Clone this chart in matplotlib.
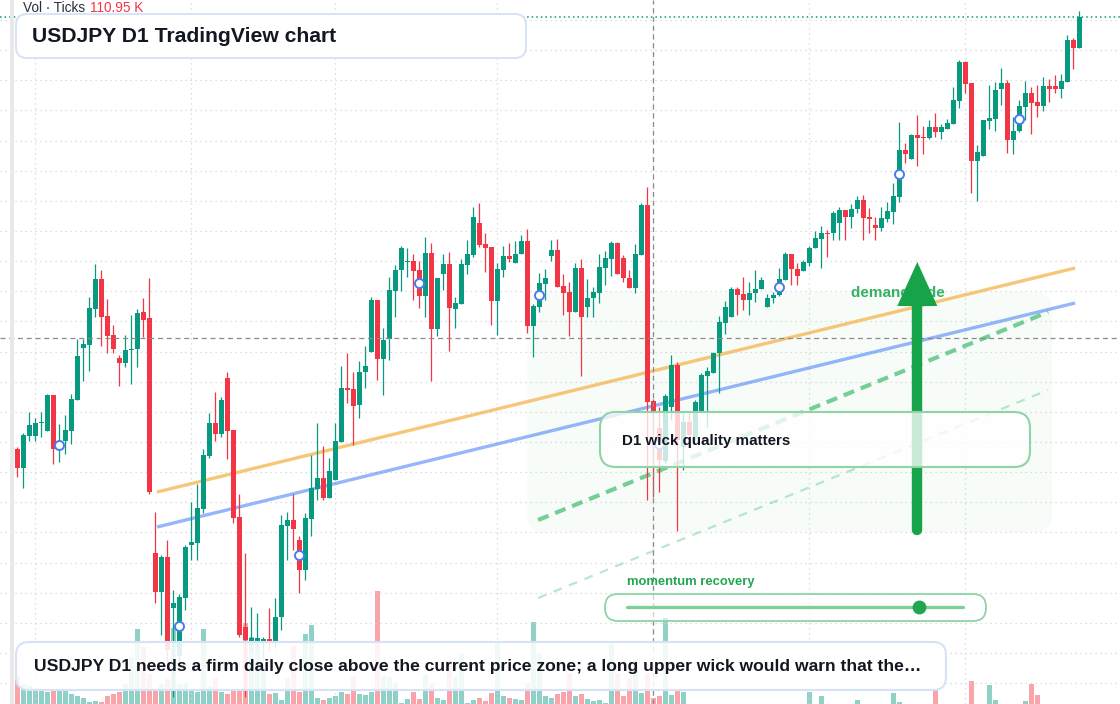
import numpy as np
import matplotlib
matplotlib.use("Agg")
import matplotlib.pyplot as plt
from matplotlib.patches import FancyBboxPatch, Polygon
from matplotlib.transforms import IdentityTransform

plt.rcParams['font.family'] = ['Liberation Sans', 'DejaVu Sans']

# daily USDJPY candles
opens = [150.51, 150.32, 150.64, 150.64, 150.77, 150.69, 151.05, 150.50, 150.59, 150.69,
         151.00, 151.52, 151.55, 151.91, 152.21, 151.84, 151.65, 151.42, 151.37, 151.50,
         151.51, 151.88, 151.82, 149.47, 149.08, 149.43, 148.92, 148.44, 149.02, 149.55,
         149.57, 149.91, 150.44, 150.77, 150.66, 151.22, 150.70, 149.83, 148.73, 148.59,
         148.59, 148.59, 148.61, 148.58, 148.83, 149.74, 149.80, 149.60, 149.30, 149.81,
         150.11, 150.22, 150.02, 150.20, 150.58, 151.12, 151.11, 150.95, 151.28, 151.48,
         152.00, 151.41, 151.61, 152.09, 152.30, 152.38, 152.39, 152.30, 152.04, 152.47,
         151.71, 152.26, 152.36, 151.91, 151.96, 152.35, 152.45, 152.77, 152.56, 152.53,
         151.99, 152.30, 152.44, 152.37, 152.46, 152.59, 151.74, 151.93, 152.16, 152.44,
         152.50, 152.14, 152.08, 151.88, 152.32, 151.93, 152.02, 152.07, 152.32, 152.41,
         152.57, 152.42, 152.22, 152.12, 152.45, 152.95, 150.99, 150.72, 150.39, 150.93,
         151.35, 150.53, 150.78, 150.63, 150.88, 151.24, 151.27, 151.47, 151.77, 151.83,
         152.11, 152.06, 152.00, 152.07, 152.11, 151.93, 152.02, 152.05, 152.20, 152.46,
         152.31, 152.29, 152.37, 152.52, 152.61, 152.67, 152.67, 152.77, 152.90, 152.83,
         152.91, 153.00, 152.83, 152.75, 152.72, 152.81, 152.88, 153.03, 153.50, 153.41,
         153.65, 153.63, 153.62, 153.73, 153.68, 153.71, 153.76, 153.99, 154.38, 154.17,
         153.39, 153.44, 153.79, 153.81, 154.11, 154.17, 153.60, 153.69, 153.93, 154.07,
         153.98, 153.94, 154.14, 154.14, 154.11, 154.18, 154.60, 154.52]
highs = [150.53, 150.67, 150.88, 150.82, 150.88, 151.06, 151.05, 150.76, 150.85, 151.06,
         151.61, 151.61, 152.03, 152.36, 152.30, 152.01, 151.75, 151.45, 151.65, 151.85,
         151.91, 152.02, 152.22, 149.88, 149.45, 149.60, 149.10, 149.06, 149.55, 149.98,
         150.16, 150.51, 150.87, 151.08, 151.03, 151.28, 150.70, 150.06, 149.47, 148.93,
         148.87, 148.63, 148.92, 149.02, 149.85, 149.88, 150.06, 149.64, 149.87, 150.45,
         150.77, 150.54, 150.42, 150.77, 151.34, 151.47, 151.28, 151.39, 151.54, 152.03,
         152.00, 151.72, 152.23, 152.35, 152.54, 152.52, 152.46, 152.39, 152.63, 152.57,
         152.22, 152.46, 152.48, 152.03, 152.41, 152.60, 152.93, 152.97, 152.67, 152.53,
         152.37, 152.54, 152.57, 152.59, 152.65, 152.71, 151.96, 152.27, 152.31, 152.60,
         152.61, 152.26, 152.18, 152.37, 152.41, 152.21, 152.13, 152.46, 152.49, 152.59,
         152.58, 152.45, 152.30, 152.56, 152.97, 153.13, 151.01, 150.93, 151.06, 151.45,
         151.38, 150.87, 150.87, 151.00, 151.27, 151.33, 151.48, 151.84, 151.99, 152.13,
         152.13, 152.23, 152.18, 152.30, 152.23, 152.06, 152.08, 152.32, 152.48, 152.46,
         152.37, 152.40, 152.54, 152.69, 152.74, 152.70, 152.89, 152.93, 152.90, 152.96,
         153.04, 153.05, 152.92, 152.83, 152.93, 152.98, 153.17, 153.78, 153.57, 153.66,
         153.85, 153.74, 153.80, 153.87, 153.76, 153.81, 154.13, 154.40, 154.39, 154.17,
         153.55, 153.80, 154.15, 154.18, 154.32, 154.20, 153.83, 154.00, 154.19, 154.13,
         154.15, 154.23, 154.21, 154.25, 154.26, 154.65, 154.62, 154.89]
lows = [150.23, 150.12, 150.59, 150.59, 150.63, 150.69, 150.36, 150.38, 150.46, 150.56,
        151.00, 151.19, 151.29, 151.83, 151.54, 151.47, 151.47, 151.14, 151.33, 151.16,
        151.33, 151.63, 150.06, 148.97, 148.65, 148.35, 148.03, 148.38, 148.90, 149.40,
        149.40, 149.87, 150.42, 150.59, 150.63, 150.41, 149.77, 148.63, 148.03, 148.50,
        148.50, 148.40, 148.50, 148.52, 148.70, 149.40, 149.50, 149.07, 149.20, 149.64,
        150.00, 150.00, 150.02, 150.20, 150.58, 150.97, 150.55, 150.82, 151.12, 151.48,
        151.20, 151.05, 151.40, 151.83, 152.09, 152.23, 152.00, 151.92, 151.83, 151.19,
        151.64, 152.10, 151.49, 151.72, 151.96, 152.26, 152.43, 152.53, 152.28, 151.75,
        151.65, 152.23, 152.38, 152.37, 152.46, 151.67, 151.43, 151.88, 152.00, 152.39,
        152.13, 151.85, 151.64, 151.88, 151.24, 151.83, 151.83, 151.97, 152.15, 152.24,
        152.26, 152.18, 152.12, 152.07, 152.45, 150.00, 150.03, 150.08, 150.37, 150.80,
        149.69, 150.30, 150.53, 150.60, 150.88, 150.73, 151.27, 151.07, 151.66, 151.83,
        151.85, 151.90, 151.85, 151.98, 152.11, 151.93, 151.97, 152.04, 152.20, 152.15,
        152.15, 152.29, 152.34, 152.52, 152.32, 152.43, 152.60, 152.60, 152.60, 152.72,
        152.87, 152.60, 152.67, 152.60, 152.69, 152.78, 152.76, 152.98, 153.37, 153.41,
        153.34, 153.46, 153.61, 153.63, 153.61, 153.71, 153.76, 153.92, 154.07, 153.07,
        152.99, 153.44, 153.71, 153.69, 153.95, 153.47, 153.46, 153.68, 153.80, 153.66,
        153.83, 153.89, 153.98, 154.07, 154.02, 154.18, 154.31, 154.52]
closes = [150.32, 150.65, 150.75, 150.77, 150.78, 151.05, 150.51, 150.59, 150.70, 151.01,
          151.44, 151.56, 151.92, 152.21, 151.83, 151.64, 151.51, 151.37, 151.50, 151.51,
          151.87, 151.80, 150.08, 149.08, 149.43, 148.50, 148.97, 149.03, 149.53, 149.58,
          149.92, 150.45, 150.77, 150.66, 151.00, 150.69, 149.82, 148.65, 148.60, 148.62,
          148.62, 148.61, 148.57, 148.83, 149.75, 149.80, 149.71, 149.30, 149.82, 150.12,
          150.22, 150.02, 150.29, 150.59, 151.12, 151.10, 150.94, 151.28, 151.34, 152.00,
          151.41, 151.60, 152.10, 152.30, 152.52, 152.39, 152.29, 152.04, 152.47, 151.71,
          152.22, 152.36, 151.92, 151.97, 152.36, 152.46, 152.83, 152.55, 152.52, 151.99,
          152.31, 152.44, 152.41, 152.46, 152.59, 151.74, 151.94, 152.17, 152.22, 152.50,
          152.13, 152.07, 151.88, 152.32, 151.83, 152.02, 152.08, 152.33, 152.42, 152.57,
          152.26, 152.22, 152.12, 152.46, 152.95, 150.98, 150.87, 150.40, 151.04, 151.35,
          150.60, 150.78, 150.65, 150.98, 151.25, 151.29, 151.47, 151.78, 151.93, 152.11,
          152.05, 152.00, 152.07, 152.11, 152.20, 152.02, 152.05, 152.21, 152.46, 152.31,
          152.24, 152.38, 152.52, 152.62, 152.67, 152.66, 152.87, 152.90, 152.83, 152.91,
          153.00, 152.82, 152.81, 152.72, 152.82, 152.89, 153.04, 153.50, 153.46, 153.65,
          153.62, 153.62, 153.73, 153.68, 153.73, 153.77, 154.00, 154.38, 154.16, 153.39,
          153.48, 153.80, 153.82, 154.10, 154.17, 153.60, 153.69, 153.94, 154.07, 153.97,
          153.94, 154.14, 154.11, 154.11, 154.19, 154.60, 154.52, 154.83]
# tick volume, thousands
volumes = [28, 20, 18, 16, 14, 12, 14, 14, 14, 10, 8, 6, 2, 3, 2, 8, 10, 12, 20, 47,
           75, 57, 30, 14, 20, 25, 76, 20, 21, 15, 12, 75, 18, 26, 12, 10, 14, 13, 81, 67,
           61, 34, 10, 11, 4, 26, 58, 12, 70, 79, 6, 4, 6, 8, 12, 10, 28, 10, 9, 12,
           113, 28, 27, 21, 1, 5, 12, 5, 29, 21, 6, 4, 44, 27, 51, 1, 4, 6, 3, 11,
           61, 8, 6, 5, 4, 21, 82, 51, 8, 6, 10, 12, 31, 8, 10, 5, 3, 4, 1, 60,
           31, 8, 26, 45, 11, 31, 6, 8, 86, 9, 15, 12, 0.4, 0.4, 0.4, 0.4, 0.4, 0.4, 0.4, 0.4,
           0.4, 0.4, 0.4, 0.4, 0.4, 0.4, 0.4, 0.4, 0.4, 0.4, 0.4, 0.4, 12, 0.4, 8, 0.4, 0.4, 0.4, 0.4, 0.4,
           4, 0.4, 0.4, 0.4, 0.4, 0.4, 11, 2, 0.4, 0.4, 0.4, 0.4, 0.4, 14, 0.4, 0.4, 0.4, 0.4, 0.4, 23,
           0.4, 0.4, 19, 4, 0.4, 0.4, 0.4, 0.4, 3, 20, 9, 0.4, 0.4, 0.4, 0.4, 0.4, 0.4, 0.4]

# drawings on the chart (bar index, price)
orange_line = ([23.3, 176.3], [150.08, 152.32])
blue_line = ([23.3, 176.3], [149.73, 151.97])
path_upper = ([86.8, 171.8], [149.80, 151.88])
path_lower = ([86.8, 171.8], [149.02, 151.10])
zone_x = (85.0, 172.45)
zone_y = (149.68, 152.08)
cross_x, cross_y = 106, 151.62
arrow_x, arrow_from, arrow_to = 150, 149.70, 152.38
vgrid_bars = [3, 29, 53, 80, 106, 132, 158]
momentum = 0.87

GREEN = '#089981'
RED = '#f23645'
TXT = '#131722'

W, H = 1120, 704
fig = plt.figure(figsize=(W / 100, H / 100), dpi=100)
vax = fig.add_axes([0, 0, 1, 1], zorder=0)
ax = fig.add_axes([0, 0, 1, 1], zorder=1)
ax.patch.set_visible(False)
xlim = (-2.88, 183.78)
for a in (ax, vax):
    a.set_xlim(*xlim)
    a.axis('off')
ax.set_ylim(147.96, 155.00)
vax.set_ylim(0, 704)

o = np.array(opens); h = np.array(highs); l = np.array(lows); c = np.array(closes)
idx = np.arange(len(o))
up = c >= o
cols = np.where(up, GREEN, RED)

# grid
dot = (0, (1, 3))
for p in np.arange(154.80, 147.9, -0.3014):
    ax.axhline(p, color='#d4d4d4', lw=0.9, ls=dot, zorder=0.5)
for b in vgrid_bars:
    ax.axvline(b, color='#d4d4d4', lw=0.9, ls=dot, zorder=0.5)

# volume
vax.bar(idx, volumes, width=0.8, color=cols, alpha=0.45, linewidth=0)

# demand zone
ax.figure.canvas.draw()
tr = ax.transData
(zx0, zy0), (zx1, zy1) = tr.transform([(zone_x[0], zone_y[0]), (zone_x[1], zone_y[1])])
ax.add_patch(FancyBboxPatch((zx0, zy0), zx1 - zx0, zy1 - zy0,
                            boxstyle='round,pad=0,rounding_size=16',
                            transform=IdentityTransform(), fc='#22c55e', alpha=0.035,
                            ec='none', zorder=1))

# trend lines
ax.plot(*orange_line, color='#f5b040', lw=2.4, alpha=0.7, zorder=2, solid_capstyle='butt')
ax.plot(*blue_line, color='#4f86f7', lw=2.4, alpha=0.6, zorder=2, solid_capstyle='butt')
ax.plot(*path_upper, color='#3dbb6c', lw=3, alpha=0.7, ls=(0, (2.7, 1.7)), zorder=2)
ax.plot(*path_lower, color='#3dbb6c', lw=1.6, alpha=0.35, ls=(0, (4, 3.5)), zorder=2)

# candles
ax.vlines(idx, l, h, colors=cols, lw=0.9, zorder=3)
body_lo = np.minimum(o, c)
body_h = np.maximum(np.abs(c - o), 0.012)
ax.bar(idx, body_h, bottom=body_lo, width=0.8, color=cols, linewidth=0, zorder=3.1)

# markers every 20 bars
mk = idx[7::20]
ax.plot(mk, (o[mk] + c[mk]) / 2, 'o', ms=6.5, mfc='white', mec='#4a7cf0', mew=1.4, zorder=3.5)

# crosshair and last price
ax.axvline(cross_x, color='#8a8a8a', lw=0.9, ls=(0, (4, 3)), zorder=3.2)
ax.axhline(cross_y, color='#8a8a8a', lw=0.9, ls=(0, (4, 3)), zorder=3.2)
ax.axhline(c[-1], color=GREEN, lw=1.1, ls=(0, (1, 2)), zorder=3.2)

# demand side label and arrow
ipx = IdentityTransform()
ax.text(851, H - 293, 'demand side', transform=ipx, color='#16a34a', alpha=0.85,
        fontsize=11, fontweight='bold', va='center', ha='left', zorder=3.8)
ax.plot([arrow_x, arrow_x], [arrow_from, arrow_to - 0.40], color='#16a34a', lw=7.5,
        solid_capstyle='round', zorder=4)
hw = 20 / 6.0
ax.add_patch(Polygon([(arrow_x - hw, arrow_to - 0.44), (arrow_x + hw, arrow_to - 0.44),
                      (arrow_x, arrow_to)], closed=True, fc='#16a34a', ec='none', zorder=4))


def box(x0, y0, x1, y1, r, fc, alpha, ec, lw=1.4):
    ax.add_patch(FancyBboxPatch((x0, H - y1), x1 - x0, y1 - y0,
                                boxstyle=f'round,pad=0,rounding_size={r}',
                                transform=ipx, fc=fc, ec='none', alpha=alpha, zorder=5))
    ax.add_patch(FancyBboxPatch((x0, H - y1), x1 - x0, y1 - y0,
                                boxstyle=f'round,pad=0,rounding_size={r}',
                                transform=ipx, fc='none', ec=ec, lw=lw, zorder=5.1))


# title box
box(16, 14, 526, 58, 11, 'white', 1.0, '#d6e3f6')
ax.text(32, H - 36, 'USDJPY D1 TradingView chart', transform=ipx, color=TXT,
        fontsize=15.2, fontweight='bold', va='center', zorder=6)
ax.text(23, H - 8, 'Vol · Ticks', transform=ipx, color='#2a2e39', fontsize=9.8,
        va='center', zorder=6)
ax.text(90, H - 8, '110.95 K', transform=ipx, color=RED, fontsize=9.8,
        va='center', zorder=6)

# wick note
box(600, 412, 1030, 467, 16, 'white', 0.78, '#8fd3a6', 1.5)
ax.text(622, H - 441, 'D1 wick quality matters', transform=ipx, color=TXT,
        fontsize=10.9, fontweight='bold', va='center', zorder=6)

# momentum slider
ax.text(627, H - 582, 'momentum recovery', transform=ipx, color='#22a652',
        fontsize=9.4, fontweight='bold', va='center', zorder=6)
box(605, 594, 986, 621, 13, 'white', 0.6, '#8fd3a6', 1.3)
ax.plot([627, 963], [H - 607, H - 607], transform=ipx, color='#7fcf98', lw=2.4,
        solid_capstyle='round', zorder=6)
ax.plot([627 + momentum * (963 - 627)], [H - 607], 'o', transform=ipx, ms=10,
        color='#22a652', mec='none', zorder=6.2)

# bottom note
box(16, 642, 946, 690, 13, 'white', 0.88, '#d6e3f6', 1.5)
ax.text(34, H - 666,
        'USDJPY D1 needs a firm daily close above the current price zone; '
        'a long upper wick would warn that the…',
        transform=ipx, color=TXT, fontsize=12.6, fontweight='bold', va='center', zorder=6)

# left edge strip
ax.add_patch(plt.Rectangle((10, 0), 4, H, transform=ipx, fc='#e8e8e8', ec='none', zorder=7))

fig.savefig('out.png', dpi=100)
